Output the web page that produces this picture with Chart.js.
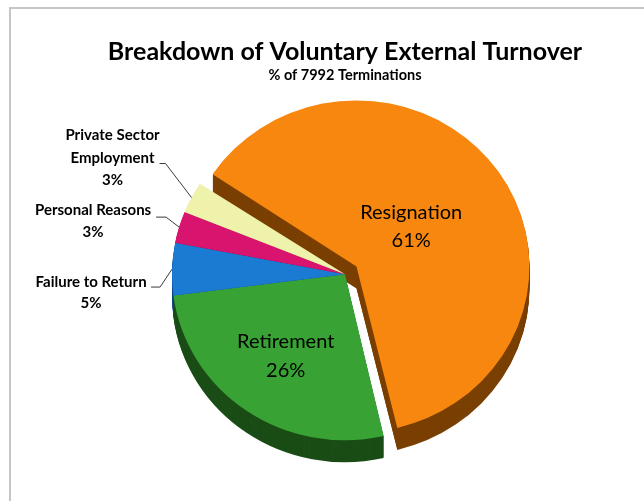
<!DOCTYPE html>
<html>
<head>
<meta charset="utf-8">
<title>Voluntary External Turnover</title>
<script src="https://cdn.jsdelivr.net/npm/chart.js@4.4.0/dist/chart.umd.min.js"></script>
<style>
  html, body { margin: 0; padding: 0; background: #fff; }
  #wrap { position: relative; width: 644px; height: 501px; overflow: hidden; }
  #frame { position: absolute; left: 9px; top: 7px; width: 700px; height: 600px;
           border-left: 2px solid #c6c6c6; border-top: 2px solid #c6c6c6; }
  #turnover { position: absolute; left: 0; top: 0; }
</style>
</head>
<body>
<div id="wrap">
  <div id="frame"></div>
  <canvas id="turnover" width="644" height="501"></canvas>
</div>
<script>
const categories = ['Resignation', 'Retirement', 'Failure to Return', 'Personal Reasons', ['Private Sector', 'Employment']];
const shares = [61, 26, 5, 3, 3];
const topColors = ['#f7870f', '#38a334', '#1b7ad2', '#d8146f', '#eef2aa'];
const sideColors = ['#7a3f02', '#1a4d16', '#0c4987', '#7c0a3e', '#a3a66a'];
const exploded = [56, 0, 0, 0, 0];

const TILT = 0.96;   // vertical squash of the pie
const DEPTH = 22;    // thickness of the side wall
const FONT = 'Lato, "Open Sans", sans-serif';

// label placement: inside slices as a fraction of radius, outside with leader lines
const innerLabels = { 0: { r: 0.42, dy: -3 }, 1: { r: 0.6, dy: 0 } };
const outerLabels = {
  2: { elbow: [-12, 18], end: [-21, 18], text: [-81, 13], gap: 21 },
  3: { elbow: [-13, -10], end: [-23, -10], text: [-86, -17], gap: 22 },
  4: { elbow: [-26, -34], end: [-32, -34], text: [-79, -62], gap: 22.5 },
};

const ctx = document.getElementById('turnover').getContext('2d');

// keep the exploded slice the same size as the others
const explodeFix = {
  id: 'explodeFix',
  afterDatasetUpdate(chart, args) {
    const ctrl = args.meta.controller;
    args.meta.data.forEach((arc, i) => {
      arc.outerRadius = ctrl.outerRadius - (exploded[i] || 0) / 4;
    });
  }
};

// squash the pie and give it a side wall
const tilt3d = {
  id: 'tilt3d',
  beforeDatasetsDraw(chart) {
    const c = chart.ctx;
    const arcs = chart.getDatasetMeta(0).data;
    const cx = arcs[0].x, cy = arcs[0].y;
    c.save();
    c.translate(cx, cy);
    c.scale(1, TILT);
    c.translate(-cx, -cy);
    for (let d = DEPTH; d > 0; d--) {
      arcs.forEach((arc, i) => {
        const side = Object.create(arc);
        side.options = Object.assign({}, arc.options, { backgroundColor: sideColors[i], borderWidth: 0 });
        c.save();
        c.translate(0, d / TILT);
        side.draw(c);
        c.restore();
      });
    }
  },
  afterDatasetsDraw(chart) {
    chart.ctx.restore();
  }
};

const sliceLabels = {
  id: 'sliceLabels',
  afterDraw(chart) {
    const c = chart.ctx;
    const arcs = chart.getDatasetMeta(0).data;
    const cx = arcs[0].x, cy = arcs[0].y;
    const flat = (x, y) => ({ x: x, y: cy + (y - cy) * TILT });
    c.save();
    c.fillStyle = '#000';
    c.textAlign = 'center';
    c.textBaseline = 'middle';
    arcs.forEach((arc, i) => {
      const mid = (arc.startAngle + arc.endAngle) / 2;
      const lines = [].concat(categories[i], shares[i] + '%');
      if (innerLabels[i]) {
        const r = innerLabels[i].r * arc.outerRadius + (exploded[i] || 0) / 4;
        const p = flat(cx + Math.cos(mid) * r, cy + Math.sin(mid) * r);
        c.font = '20px ' + FONT;
        const gap = 28.5;
        lines.forEach((t, k) => c.fillText(t, p.x, p.y + innerLabels[i].dy + (k - (lines.length - 1) / 2) * gap));
      } else if (outerLabels[i]) {
        const o = outerLabels[i];
        const a = flat(cx + Math.cos(mid) * arc.outerRadius, cy + Math.sin(mid) * arc.outerRadius);
        c.strokeStyle = '#3a3a3a';
        c.lineWidth = 1;
        c.beginPath();
        c.moveTo(a.x, a.y);
        c.lineTo(a.x + o.elbow[0], a.y + o.elbow[1]);
        c.lineTo(a.x + o.end[0], a.y + o.end[1]);
        c.stroke();
        c.font = 'bold 15px ' + FONT;
        lines.forEach((t, k) => c.fillText(t, a.x + o.text[0], a.y + o.text[1] + k * o.gap));
      }
    });
    c.restore();
  }
};

const turnover = new Chart(ctx, {
  type: 'pie',
  data: {
    labels: categories,
    datasets: [{
      data: shares,
      backgroundColor: topColors,
      borderWidth: 0,
      offset: exploded,
    }]
  },
  options: {
    responsive: false,
    animation: false,
    devicePixelRatio: 1,
    radius: 173,
    rotation: -57,
    layout: {
      padding: { left: 46, right: 0, top: 0, bottom: 37 },
    },
    plugins: {
      legend: { display: false },
      tooltip: { enabled: false },
      title: {
        display: true,
        text: 'Breakdown of Voluntary External Turnover',
        color: '#000',
        font: { family: FONT, size: 25, weight: 'bold' },
        padding: { top: 37, bottom: 0 },
      },
      subtitle: {
        display: true,
        text: '% of 7992 Terminations',
        color: '#000',
        font: { family: FONT, size: 14.5, weight: 'bold' },
        padding: { top: 0, bottom: 0 },
      },
    },
  },
  plugins: [explodeFix, tilt3d, sliceLabels],
});
</script>
</body>
</html>
